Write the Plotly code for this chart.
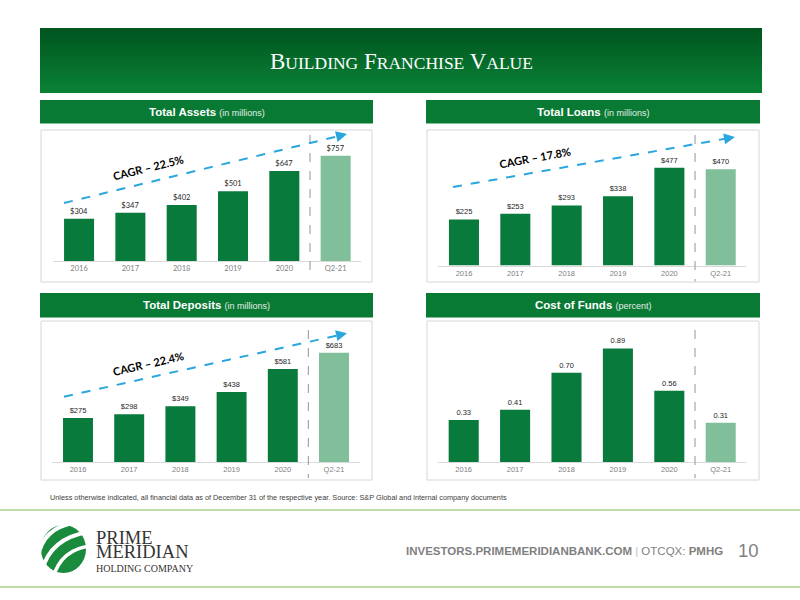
import plotly.graph_objects as go

# ---------------- data ----------------
categories = ["2016", "2017", "2018", "2019", "2020", "Q2-21"]
total_assets = [304, 347, 402, 501, 647, 757]
total_loans = [225, 253, 293, 338, 477, 470]
total_deposits = [275, 298, 349, 438, 581, 683]
cost_of_funds = [0.33, 0.41, 0.70, 0.89, 0.56, 0.31]

assets_labels = ["$" + str(v) for v in total_assets]
loans_labels = ["$" + str(v) for v in total_loans]
deposits_labels = ["$" + str(v) for v in total_deposits]
cof_labels = [f"{v:.2f}" for v in cost_of_funds]

cagr_assets = "CAGR – 22.5%"
cagr_loans = "CAGR – 17.8%"
cagr_deposits = "CAGR – 22.4%"

# ---------------- helpers ----------------
W, H = 800, 600


def X(p):
    return p / W


def Y(p):
    return 1 - p / H


DARK = "#087a3b"
LIGHT = "#80bf99"
HEADER = "#087a34"
BLUE = "#2aa6de"
SANS = "Liberation Sans, Arial, sans-serif"
SERIF = "Liberation Serif, Times New Roman, serif"

bar_colors = [DARK] * (len(categories) - 1) + [LIGHT]

panels = [
    dict(vals=total_assets, labels=assets_labels, xd=(53.4, 361.3), yb=261, yt=135, rmax=906, lfont="Lato, sans-serif"),
    dict(vals=total_loans, labels=loans_labels, xd=(438.3, 746.4), yb=265.5, yt=135, rmax=637, lfont=SANS),
    dict(vals=total_deposits, labels=deposits_labels, xd=(52.4, 359.6), yb=462, yt=330, rmax=825, lfont=SANS),
    dict(vals=cost_of_funds, labels=cof_labels, xd=(438, 746.4), yb=462.3, yt=330, rmax=1.034, lfont=SANS),
]

fig = go.Figure()
layout = dict(
    width=W, height=H,
    margin=dict(l=0, r=0, t=0, b=0),
    paper_bgcolor="white",
    plot_bgcolor="rgba(0,0,0,0)",
    showlegend=False,
    bargap=0.415,
)
shapes = []
annotations = []

for i, p in enumerate(panels):
    n = "" if i == 0 else str(i + 1)
    fig.add_trace(go.Bar(
        x=categories, y=p["vals"], text=p["labels"],
        textposition="outside", constraintext="none", cliponaxis=False,
        textfont=dict(family=p["lfont"], size=7.5, color="#262626"),
        marker=dict(color=bar_colors, line=dict(width=0)),
        xaxis="x" + n, yaxis="y" + n, hoverinfo="skip",
    ))
    layout["xaxis" + n] = dict(
        domain=[X(p["xd"][0]), X(p["xd"][1])], anchor="y" + n,
        type="category", showline=True, linecolor="#d9d9d9", linewidth=1,
        showgrid=False, zeroline=False, ticks="",
        tickfont=dict(family=p["lfont"], size=7.5, color="#808080"),
        fixedrange=True,
    )
    layout["yaxis" + n] = dict(
        domain=[Y(p["yb"]), Y(p["yt"])], anchor="x" + n,
        range=[0, p["rmax"]], visible=False, fixedrange=True,
    )
    shapes.append(dict(type="line", xref="x" + n, yref="paper",
                       x0=4.5, x1=4.5, y0=Y(p["yt"]), y1=Y(p["yb"] + 16),
                       line=dict(color="#a6a6a6", width=1.2, dash="dash")))

# ---------------- header band (gradient) ----------------
top_c = (0x00, 0x55, 0x1f)
bot_c = (0x0a, 0x82, 0x36)
n_str = 26
y0, y1 = 28, 93
for k in range(n_str):
    t = k / (n_str - 1)
    c = tuple(int(round(top_c[j] + (bot_c[j] - top_c[j]) * t)) for j in range(3))
    ya = y0 + (y1 - y0) * k / n_str
    yb = y0 + (y1 - y0) * (k + 1) / n_str + 0.6
    shapes.append(dict(type="rect", xref="paper", yref="paper", layer="below",
                       x0=X(40), x1=X(762), y0=Y(min(yb, y1)), y1=Y(ya),
                       fillcolor="rgb(%d,%d,%d)" % c, line=dict(width=0)))

annotations.append(dict(
    xref="paper", yref="paper", x=X(401), y=Y(61), showarrow=False,
    xanchor="center", yanchor="middle",
    text=("B<span style='font-size:17.5px'>UILDING</span> "
          "F<span style='font-size:17.5px'>RANCHISE</span> "
          "V<span style='font-size:17.5px'>ALUE</span>"),
    font=dict(family=SERIF, size=23, color="white"),
))

# ---------------- panel headers and boxes ----------------
panel_boxes = [
    (40, 373, 100, 123.5, 130, 282, "Total Assets", "(in millions)"),
    (426, 760, 100, 123.5, 130, 282, "Total Loans", "(in millions)"),
    (40, 373, 293, 317.5, 321, 480, "Total Deposits", "(in millions)"),
    (426, 760, 293, 317.5, 321, 480, "Cost of Funds", "(percent)"),
]
for (xa, xb, hy0, hy1, by0, by1, title, sub) in panel_boxes:
    shapes.append(dict(type="rect", xref="paper", yref="paper", layer="below",
                       x0=X(xa), x1=X(xb), y0=Y(hy1), y1=Y(hy0),
                       fillcolor=HEADER, line=dict(width=0)))
    shapes.append(dict(type="rect", xref="paper", yref="paper", layer="below",
                       x0=X(xa + 1), x1=X(xb - 1), y0=Y(by1), y1=Y(by0),
                       fillcolor="white", line=dict(color="#d6d6d6", width=1)))
    annotations.append(dict(
        xref="paper", yref="paper", x=X((xa + xb) / 2), y=Y((hy0 + hy1) / 2),
        showarrow=False, xanchor="center", yanchor="middle",
        text="<b>%s</b> <span style='font-size:9px;color:#e6efe8'>%s</span>" % (title, sub),
        font=dict(family=SANS, size=11.5, color="white"),
    ))

# ---------------- CAGR arrows ----------------
arrows = [
    ((64, 203), (347, 134), cagr_assets, (148, 167), -14),
    ((453, 187), (735, 137), cagr_loans, (535, 158), -10.5),
    ((64, 396.7), (347, 333.3), cagr_deposits, (148, 363), -13),
]
for (sx, sy), (ex, ey), label, (tx, ty), ang in arrows:
    dx, dy = ex - sx, ey - sy
    L = (dx * dx + dy * dy) ** 0.5
    ux, uy = dx / L, dy / L
    shapes.append(dict(type="line", xref="paper", yref="paper",
                       x0=X(sx), y0=Y(sy), x1=X(ex - ux * 5), y1=Y(ey - uy * 5),
                       line=dict(color=BLUE, width=2, dash="dash")))
    annotations.append(dict(
        xref="paper", yref="paper", x=X(ex), y=Y(ey), text="",
        showarrow=True, arrowhead=2, arrowsize=1.1, arrowwidth=2,
        arrowcolor=BLUE, ax=-ux * 9, ay=-uy * 9, standoff=0,
    ))
    annotations.append(dict(
        xref="paper", yref="paper", x=X(tx), y=Y(ty), text="<b>%s</b>" % label,
        showarrow=False, textangle=ang, xanchor="center", yanchor="middle",
        font=dict(family="Lato, Open Sans, sans-serif", size=11, color="black"),
    ))

# ---------------- footnote and footer ----------------
annotations.append(dict(
    xref="paper", yref="paper", x=X(48), y=Y(497), xanchor="left", yanchor="middle",
    showarrow=False,
    text="Unless otherwise indicated, all financial data as of December 31 of the respective year. Source: S&P Global and internal company documents",
    font=dict(family=SANS, size=7.3, color="#404040"),
))
for ly in (510, 587):
    shapes.append(dict(type="line", xref="paper", yref="paper",
                       x0=0, x1=1, y0=Y(ly), y1=Y(ly),
                       line=dict(color="#a9d18e", width=1.5)))

annotations.append(dict(
    xref="paper", yref="paper", x=X(404), y=Y(551), xanchor="left", yanchor="middle",
    showarrow=False,
    text=("<b>INVESTORS.PRIMEMERIDIANBANK.COM</b> "
          "<span style='color:#bfbfbf'>|</span> OTCQX: <b>PMHG</b>"),
    font=dict(family=SANS, size=11.5, color="#7f7f7f"),
))
annotations.append(dict(
    xref="paper", yref="paper", x=X(736), y=Y(550), xanchor="left", yanchor="middle",
    showarrow=False, text="10",
    font=dict(family=SANS, size=18.5, color="#7f7f7f"),
))

# ---------------- logo ----------------
logo_green = "#1a8a3c"


def to_paper_path(path):
    out = []
    toks = path.split()
    i = 0
    while i < len(toks):
        t = toks[i]
        if t.isalpha():
            out.append(t)
            i += 1
        else:
            out.append("%.5f,%.5f" % (X(float(toks[i])), Y(float(toks[i + 1]))))
            i += 2
    return " ".join(out)


shapes.append(dict(type="circle", xref="paper", yref="paper",
                   x0=X(41), x1=X(86), y0=Y(573), y1=Y(525),
                   fillcolor=logo_green, line=dict(width=0)))
gaps = [
    ("M 38 557 Q 43 528 74 523", 4),
    ("M 42 571 Q 50 538 89 532", 4),
    ("M 53 578 Q 61 549 91 546", 3.5),
]
for pth, wdt in gaps:
    shapes.append(dict(type="path", xref="paper", yref="paper",
                       path=to_paper_path(pth),
                       line=dict(color="white", width=wdt)))

annotations.append(dict(
    xref="paper", yref="paper", x=X(94), y=Y(551), xanchor="left", yanchor="middle",
    align="left", showarrow=False,
    text=("<span style='font-size:18.5px'>PRIME</span><br>"
          "<span style='font-size:18.5px'>MERIDIAN</span><br>"
          "<span style='font-size:10px'>HOLDING COMPANY</span>"),
    font=dict(family=SERIF, size=10.9, color="#333333"),
))

layout["shapes"] = shapes
layout["annotations"] = annotations
fig.update_layout(**layout)
fig.write_html("out.html", config={"displayModeBar": False},
               post_script="document.body.style.margin='0px';document.body.style.overflow='hidden';")
